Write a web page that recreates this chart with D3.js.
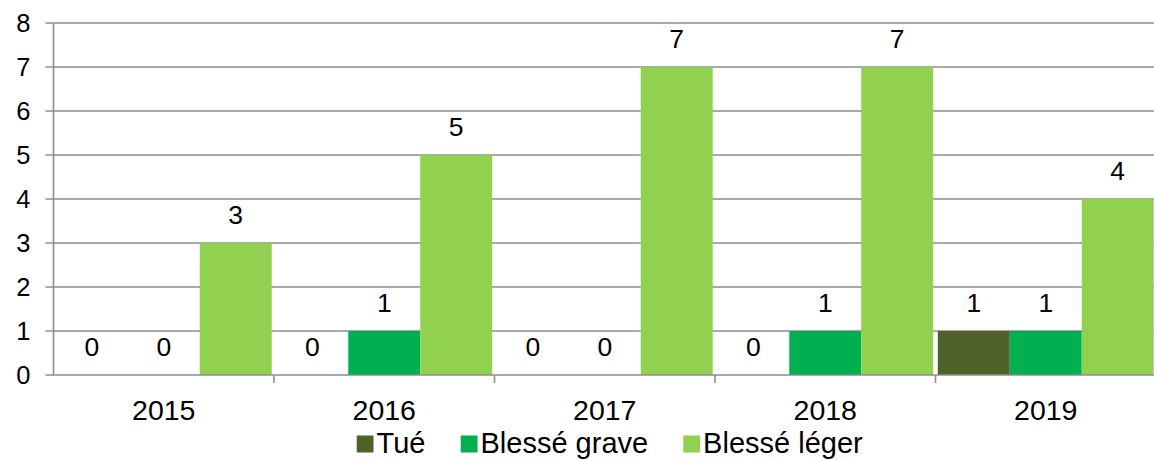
<!DOCTYPE html>
<html><head><meta charset="utf-8">
<script src="https://cdn.jsdelivr.net/npm/d3@7"></script>
<style>body{margin:0;background:#fff}svg{display:block}text{font-family:"Liberation Sans",Arial,sans-serif;fill:#000}</style>
</head><body><svg id="c" width="1154" height="460"></svg>
<script>
const categories = ["2015","2016","2017","2018","2019"];
const seriesNames = ["Tué","Blessé grave","Blessé léger"];
const tue = [0,0,0,0,1];
const blesseGrave = [0,1,0,1,1];
const blesseLeger = [3,5,7,7,4];
const yTicks = [0,1,2,3,4,5,6,7,8];
const colors = ["#4F6228","#00B050","#92D050"];

(function(){
const series = [tue, blesseGrave, blesseLeger];
const svg = d3.select("#c");
const pLeft = 53.5, pRight = 1156, pTop = 23, pBottom = 375;
const x = d3.scaleBand().domain(categories).range([pLeft, pRight]).paddingInner(0).paddingOuter(0);
const x1 = d3.scaleBand().domain(d3.range(3)).range([0, x.bandwidth()]).paddingOuter(0.032).paddingInner(0);
const y = d3.scaleLinear().domain([0, 8]).range([pBottom, pTop]);
const grid = "#8c8c8c";

svg.append("g").selectAll("line").data(yTicks.filter(d=>d>0)).join("line")
  .attr("x1", pLeft-8).attr("x2", 1154).attr("y1", d=>y(d)).attr("y2", d=>y(d))
  .attr("stroke", grid).attr("stroke-width", 1.6);

const g = svg.append("g");
categories.forEach((c, i) => {
  series.forEach((s, j) => {
    if (s[i] > 0) {
      g.append("rect").attr("x", x(c) + x1(j)).attr("width", x1.bandwidth())
        .attr("y", y(s[i])).attr("height", y(0) - y(s[i])).attr("fill", colors[j]);
    }
    g.append("text").attr("x", x(c) + x1(j) + x1.bandwidth()/2).attr("y", y(s[i]) - 19.3)
      .attr("text-anchor", "middle").attr("font-size", 26.5).text(s[i]);
  });
});

svg.append("line").attr("x1", pLeft).attr("x2", pLeft).attr("y1", pTop).attr("y2", pBottom)
  .attr("stroke", grid).attr("stroke-width", 1.6);
svg.append("line").attr("x1", pLeft-8).attr("x2", 1154).attr("y1", pBottom).attr("y2", pBottom)
  .attr("stroke", grid).attr("stroke-width", 1.6);
svg.append("g").selectAll("text").data(yTicks).join("text")
  .attr("x", 30.5).attr("y", d=>y(d)+9).attr("text-anchor","end").attr("font-size", 25.5).text(d=>d);
svg.append("g").selectAll("line").data(categories.slice(1)).join("line")
  .attr("x1", d=>x(d)).attr("x2", d=>x(d)).attr("y1", pBottom).attr("y2", pBottom+8)
  .attr("stroke", grid).attr("stroke-width", 1.6);
svg.append("g").selectAll("text").data(categories).join("text")
  .attr("x", d=>x(d)+x.bandwidth()/2).attr("y", 419.5).attr("text-anchor","middle").attr("font-size", 28.5).text(d=>d);

// legend layout (swatch left edges)
const legendX = [356.7, 460.7, 683.3];
seriesNames.forEach((n, j) => {
  svg.append("rect").attr("x", legendX[j]).attr("y", 435.5).attr("width", 16.8).attr("height", 17).attr("fill", colors[j]);
  svg.append("text").attr("x", legendX[j] + 19.8).attr("y", 453.3).attr("font-size", 29).text(n);
});
})();
</script></body></html>
